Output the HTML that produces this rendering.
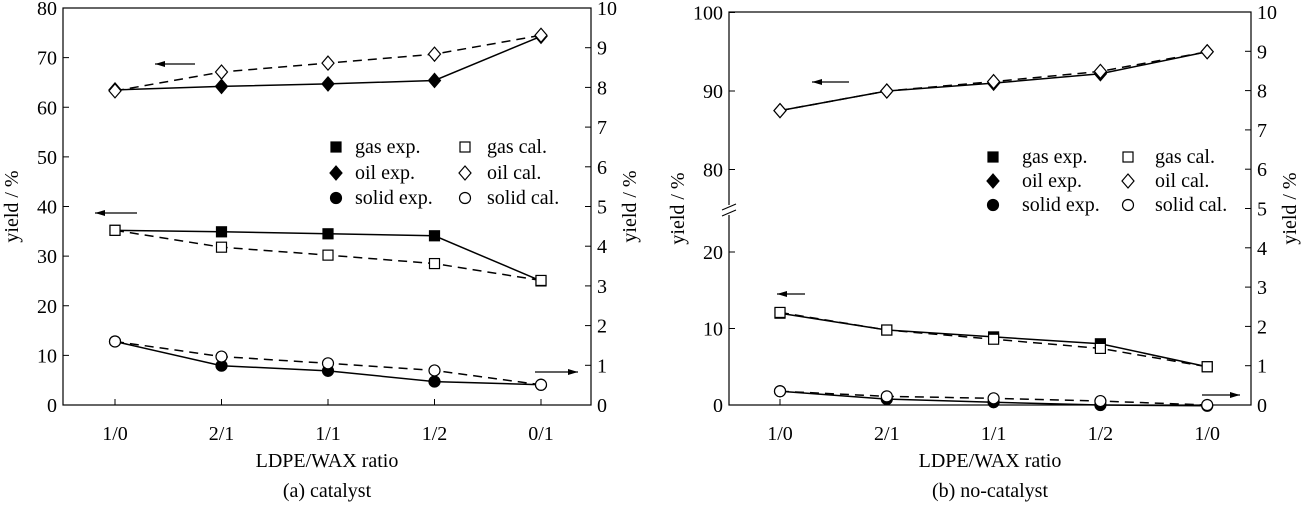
<!DOCTYPE html>
<html><head><meta charset="utf-8"><style>
html,body{margin:0;padding:0;background:#fff;}
svg text{font-family:"Liberation Serif",serif;fill:#000;}
</style></head><body>
<svg id="chart" width="1316" height="502" viewBox="0 0 1316 502" xmlns="http://www.w3.org/2000/svg"></svg>
<script>
const categoriesA = ["1/0","2/1","1/1","1/2","0/1"];
const categoriesB = ["1/0","2/1","1/1","1/2","1/0"];
const leftTicksA = [0,10,20,30,40,50,60,70,80];
const leftTicksB = [0,10,20,80,90,100];
const rightTicks = [0,1,2,3,4,5,6,7,8,9,10];
const oilExpA = [63.5,64.2,64.7,65.4,74.3];
const oilCalA = [63.3,67.1,68.9,70.7,74.5];
const gasExpA = [35.2,34.9,34.5,34.1,25.0];
const gasCalA = [35.2,31.8,30.2,28.5,25.1];
const solidExpA = [1.6,0.99,0.86,0.59,0.51];
const solidCalA = [1.6,1.22,1.05,0.87,0.51];
const oilExpB = [87.5,90.0,91.0,92.2,95.0];
const oilCalB = [87.5,90.0,91.2,92.5,95.0];
const gasExpB = [12.0,9.8,8.9,8.0,5.0];
const gasCalB = [12.1,9.8,8.6,7.4,5.0];
const solidExpB = [0.35,0.15,0.07,0.0,-0.02];
const solidCalB = [0.35,0.22,0.17,0.1,0.0];

const svg = document.getElementById('chart');
const NS = "http://www.w3.org/2000/svg";
function mk(tag, attrs, name, parent){
  const e = document.createElementNS(NS, tag);
  for (const k in attrs) e.setAttribute(k, attrs[k]);
  
  
  (parent||svg).appendChild(e);
  return e;
}
function txt(x,y,s,name,opts){
  const t = mk('text', Object.assign({x:x,y:y,'font-size':20,'text-anchor':'middle'},opts||{}), name);
  t.textContent = s;
  return t;
}
function marker(kind,x,y,name){
  const filled = kind.endsWith('F');
  const k = kind[0];
  const st = {fill: filled?'#000':'#fff', stroke:'#000','stroke-width':1.2};
  if (k==='s') mk('rect', Object.assign({x:x-5,y:y-5,width:10,height:10},st), name);
  else if (k==='d') mk('polygon', Object.assign({points:`${x},${y-7} ${x+6},${y} ${x},${y+7} ${x-6},${y}`},st), name);
  else mk('circle', Object.assign({cx:x,cy:y,r:5.5},st), name);
}
function arrow(x1,x2,y,name){
  mk('line',{x1:x1,y1:y,x2:x2,y2:y,stroke:'#000','stroke-width':1.2},name);
  const d = x2<x1 ? 1 : -1;
  mk('polygon',{points:`${x2},${y} ${x2+d*10},${y-3} ${x2+d*10},${y+3}`,fill:'#000'},name+'-head');
}
function line(xs, vals, yf, dashed, name){
  const pts = vals.map((v,i)=>xs[i]+','+yf(v)).join(' ');
  mk('polyline',{points:pts,fill:'none',stroke:'#000','stroke-width':1.5,'stroke-dasharray':dashed?'9,6':'none'},name+'-line');
}
function points(xs, vals, yf, kind, name){
  vals.forEach((v,i)=>marker(kind,xs[i],yf(v),name+'-point'));
}
function panel(o){
  const {L,R,T,B,xs,cats,leftTicks,yL,yR,tag} = o;
  mk('rect',{x:L,y:T,width:R-L,height:B-T,fill:'none',stroke:'#000','stroke-width':1.2},tag+'-plot-frame');
  if (o.breakY){
    mk('rect',{x:L-6,y:o.breakY-6,width:12,height:10,fill:'#fff'},tag+'-axis-break-mask');
    mk('line',{x1:L-7,y1:o.breakY-1,x2:L+7,y2:o.breakY-7,stroke:'#000'},tag+'-axis-break');
    mk('line',{x1:L-7,y1:o.breakY+5,x2:L+7,y2:o.breakY-1,stroke:'#000'},tag+'-axis-break');
  }
  leftTicks.forEach(v=>{
    const y=yL(v);
    mk('line',{x1:L,y1:y,x2:L+6,y2:y,stroke:'#000'},tag+'-left-tick');
    txt(L-6,y+7,String(v),tag+'-left-tick-label',{'text-anchor':'end'});
  });
  rightTicks.forEach(v=>{
    const y=yR(v);
    mk('line',{x1:R-6,y1:y,x2:R,y2:y,stroke:'#000'},tag+'-right-tick');
    txt(R+6,y+7,String(v),tag+'-right-tick-label',{'text-anchor':'start'});
  });
  cats.forEach((c,i)=>{
    mk('line',{x1:xs[i],y1:B,x2:xs[i],y2:B-6,stroke:'#000'},tag+'-x-tick');
    txt(xs[i],B+35,c,tag+'-x-tick-label');
  });
  const cx=(L+R)/2;
  txt(cx,B+62,'LDPE/WAX ratio',tag+'-x-axis-title');
  txt(cx,B+92,o.caption,tag+'-caption');
  txt(0,0,'yield / %',tag+'-left-axis-title',{transform:`translate(${L-45},${(T+B)/2}) rotate(-90)`});
  txt(0,0,'yield / %',tag+'-right-axis-title',{transform:`translate(${R+45},${(T+B)/2}) rotate(-90)`});
}
function legend(x1,xt1,x2,xt2,ys,tag){
  const rows=[['sF','gas exp.','s','gas cal.'],['dF','oil exp.','d','oil cal.'],['cF','solid exp.','c','solid cal.']];
  rows.forEach((r,i)=>{
    marker(r[0],x1,ys[i],tag+'-legend-marker');
    txt(xt1,ys[i]+6,r[1],tag+'-legend-entry',{'text-anchor':'start'});
    marker(r[2],x2,ys[i],tag+'-legend-marker');
    txt(xt2,ys[i]+6,r[3],tag+'-legend-entry',{'text-anchor':'start'});
  });
}
function drawAll(xs,yL,yR,d,tag){
  line(xs,d.oilCal,yL,true,tag+'-oil-cal');
  line(xs,d.oilExp,yL,false,tag+'-oil-exp');
  line(xs,d.gasCal,yL,true,tag+'-gas-cal');
  line(xs,d.gasExp,yL,false,tag+'-gas-exp');
  line(xs,d.solidCal,yR,true,tag+'-solid-cal');
  line(xs,d.solidExp,yR,false,tag+'-solid-exp');
  points(xs,d.oilExp,yL,'dF',tag+'-oil-exp');
  points(xs,d.gasExp,yL,'sF',tag+'-gas-exp');
  points(xs,d.solidExp,yR,'cF',tag+'-solid-exp');
  points(xs,d.oilCal,yL,'d',tag+'-oil-cal');
  points(xs,d.gasCal,yL,'s',tag+'-gas-cal');
  points(xs,d.solidCal,yR,'c',tag+'-solid-cal');
}

// Panel A
(function(){
  const L=63,R=591,T=8,B=405;
  const xs=categoriesA.map((c,i)=>115+i*106.5);
  const yL=v=>B-(v/80)*(B-T);
  const yR=v=>B-(v/10)*(B-T);
  panel({L,R,T,B,xs,cats:categoriesA,leftTicks:leftTicksA,yL,yR,tag:'a',caption:'(a) catalyst'});
  drawAll(xs,yL,yR,{oilExp:oilExpA,oilCal:oilCalA,gasExp:gasExpA,gasCal:gasCalA,solidExp:solidExpA,solidCal:solidCalA},'a');
  arrow(195,155,64,'a-oil-axis-arrow');
  arrow(137,95,213,'a-gas-axis-arrow');
  arrow(535,578,372,'a-solid-axis-arrow');
  legend(336,355,465,487,[147,173,198],'a');
})();

// Panel B
(function(){
  const L=729,R=1251,T=12,B=405;
  const xs=categoriesB.map((c,i)=>780+i*106.8);
  const yL=v=> v<=50 ? B-v*7.65 : 91-(v-90)*7.85;
  const yR=v=>B-(v/10)*(B-T);
  panel({L,R,T,B,xs,cats:categoriesB,leftTicks:leftTicksB,yL,yR,tag:'b',caption:'(b) no-catalyst',breakY:211});
  drawAll(xs,yL,yR,{oilExp:oilExpB,oilCal:oilCalB,gasExp:gasExpB,gasCal:gasCalB,solidExp:solidExpB,solidCal:solidCalB},'b');
  arrow(849,812,82,'b-oil-axis-arrow');
  arrow(805,777,294,'b-gas-axis-arrow');
  arrow(1202,1240,395,'b-solid-axis-arrow');
  legend(993,1022,1128,1155,[157,181,205],'b');
})();
</script>
</body></html>
